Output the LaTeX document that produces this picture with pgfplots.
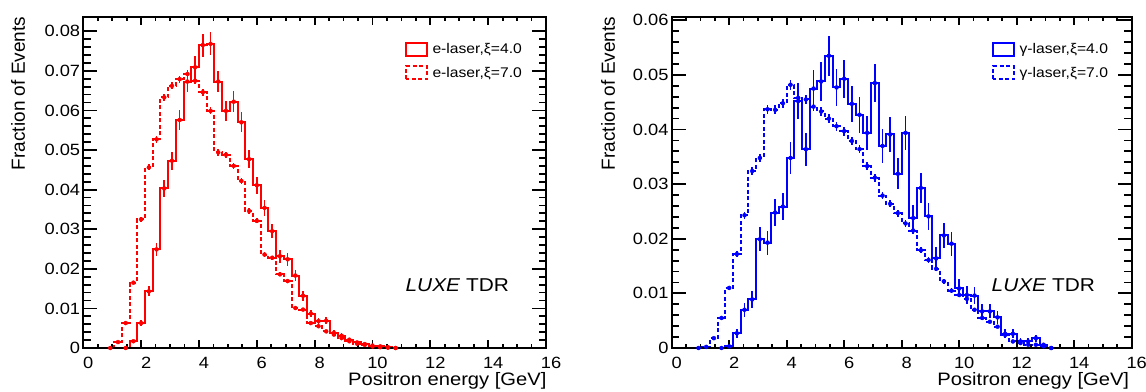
\documentclass[border=0pt]{standalone}
\usepackage{pgfplots}
\pgfplotsset{compat=1.18}
\usepackage{pgfplotstable}
\usepackage{fontspec}
\setmainfont[FakeStretch=1.12]{Liberation Sans}
\newfontfamily\ylabfont{Liberation Sans}
\definecolor{rootred}{RGB}{255,0,0}
\definecolor{rootblue}{RGB}{0,0,255}

% e-laser, xi=4.0 : bin left edge, bin centre, fraction, error
\pgfplotstableread{
e c y err
1.3333 1.4667 0 0
1.6 1.7333 0.0017 0.00044
1.8667 2.0 0.0063 0.00084
2.1333 2.2667 0.0143 0.00126
2.4 2.5333 0.0249 0.00166
2.6667 2.8 0.0403 0.00212
2.9333 3.0667 0.0473 0.00229
3.2 3.3333 0.0576 0.00253
3.4667 3.6 0.0673 0.00273
3.7333 3.8667 0.0709 0.00281
4.0 4.1333 0.0765 0.00292
4.2667 4.4 0.0768 0.00292
4.5333 4.6667 0.0673 0.00273
4.8 4.9333 0.0599 0.00258
5.0667 5.2 0.0622 0.00263
5.3333 5.4667 0.0570 0.00252
5.6 5.7333 0.0477 0.00230
5.8667 6.0 0.0411 0.00214
6.1333 6.2667 0.0354 0.00198
6.4 6.5333 0.0295 0.00181
6.6667 6.8 0.0232 0.00161
6.9333 7.0667 0.0224 0.00158
7.2 7.3333 0.0183 0.00143
7.4667 7.6 0.0132 0.00121
7.7333 7.8667 0.0087 0.00098
8.0 8.1333 0.0068 0.00087
8.2667 8.4 0.0069 0.00088
8.5333 8.6667 0.0038 0.00065
8.8 8.9333 0.0031 0.00059
9.0667 9.2 0.0021 0.00048
9.3333 9.4667 0.0014 0.00039
9.6 9.7333 0.0010 0.00033
9.8667 10.0 0.0006 0.00026
10.1333 10.2667 0.0004 0.00021
10.4 10.5333 0.0002 0.00015
10.6667 10.8 0 0
}\eA

% e-laser, xi=7.0
\pgfplotstableread{
e c y err
0.8 0.9333 0 0
1.0667 1.2 0.0015 0.00014
1.3333 1.4667 0.0063 0.00028
1.6 1.7333 0.0165 0.00045
1.8667 2.0 0.0325 0.00064
2.1333 2.2667 0.0456 0.00076
2.4 2.5333 0.0527 0.00081
2.6667 2.8 0.0633 0.00089
2.9333 3.0667 0.0662 0.00091
3.2 3.3333 0.0679 0.00092
3.4667 3.6 0.0692 0.00093
3.7333 3.8667 0.0675 0.00092
4.0 4.1333 0.0646 0.00090
4.2667 4.4 0.0599 0.00087
4.5333 4.6667 0.0494 0.00079
4.8 4.9333 0.0488 0.00078
5.0667 5.2 0.0460 0.00076
5.3333 5.4667 0.0422 0.00073
5.6 5.7333 0.0346 0.00066
5.8667 6.0 0.0321 0.00063
6.1333 6.2667 0.0236 0.00054
6.4 6.5333 0.0228 0.00053
6.6667 6.8 0.0186 0.00048
6.9333 7.0667 0.0169 0.00046
7.2 7.3333 0.0101 0.00036
7.4667 7.6 0.0097 0.00035
7.7333 7.8667 0.0063 0.00028
8.0 8.1333 0.0055 0.00026
8.2667 8.4 0.0042 0.00023
8.5333 8.6667 0.0034 0.00021
8.8 8.9333 0.0025 0.00018
9.0667 9.2 0.0017 0.00015
9.3333 9.4667 0.0011 0.00012
9.6 9.7333 0.0008 0.00010
9.8667 10.0 0.0004 0.00007
10.1333 10.2667 0.0002 0.00005
10.4 10.5333 0.0001 0.00004
10.6667 10.8 0 0
}\eB

% gamma-laser, xi=4.0
\pgfplotstableread{
e c y err
1.6 1.7333 0 0
1.8667 2.0 0.0003 0.00027
2.1333 2.2667 0.0027 0.00082
2.4 2.5333 0.0070 0.00132
2.6667 2.8 0.0089 0.00149
2.9333 3.0667 0.0199 0.00223
3.2 3.3333 0.0193 0.00220
3.4667 3.6 0.0248 0.00249
3.7333 3.8667 0.0259 0.00254
4.0 4.1333 0.0348 0.00295
4.2667 4.4 0.0452 0.00336
4.5333 4.6667 0.0364 0.00302
4.8 4.9333 0.0475 0.00345
5.0667 5.2 0.0488 0.00349
5.3333 5.4667 0.0535 0.00366
5.6 5.7333 0.0477 0.00345
5.8667 6.0 0.0493 0.00351
6.1333 6.2667 0.0447 0.00334
6.4 6.5333 0.0427 0.00327
6.6667 6.8 0.0394 0.00314
6.9333 7.0667 0.0485 0.00348
7.2 7.3333 0.0370 0.00304
7.4667 7.6 0.0391 0.00313
7.7333 7.8667 0.0319 0.00282
8.0 8.1333 0.0394 0.00314
8.2667 8.4 0.0238 0.00244
8.5333 8.6667 0.0293 0.00271
8.8 8.9333 0.0241 0.00245
9.0667 9.2 0.0164 0.00203
9.3333 9.4667 0.0206 0.00227
9.6 9.7333 0.0191 0.00218
9.8667 10.0 0.0109 0.00165
10.1333 10.2667 0.0097 0.00156
10.4 10.5333 0.0096 0.00155
10.6667 10.8 0.0067 0.00129
10.9333 11.0667 0.0067 0.00129
11.2 11.3333 0.0056 0.00118
11.4667 11.6 0.0026 0.00081
11.7333 11.8667 0.0026 0.00081
12.0 12.1333 0.0012 0.00055
12.2667 12.4 0.0012 0.00055
12.5333 12.6667 0.0018 0.00067
12.8 12.9333 0.0006 0.00039
13.0667 13.2 0 0
}\gA

% gamma-laser, xi=7.0
\pgfplotstableread{
e c y err
0.8 0.9333 0 0
1.0667 1.2 0.0002 0.00006
1.3333 1.4667 0.0018 0.00017
1.6 1.7333 0.0055 0.00030
1.8667 2.0 0.0110 0.00043
2.1333 2.2667 0.0172 0.00054
2.4 2.5333 0.0243 0.00064
2.6667 2.8 0.0324 0.00073
2.9333 3.0667 0.0348 0.00076
3.2 3.3333 0.0437 0.00085
3.4667 3.6 0.0436 0.00085
3.7333 3.8667 0.0448 0.00086
4.0 4.1333 0.0482 0.00090
4.2667 4.4 0.0458 0.00087
4.5333 4.6667 0.0455 0.00087
4.8 4.9333 0.0442 0.00086
5.0667 5.2 0.0433 0.00085
5.3333 5.4667 0.0420 0.00084
5.6 5.7333 0.0406 0.00082
5.8667 6.0 0.0397 0.00081
6.1333 6.2667 0.0379 0.00079
6.4 6.5333 0.0364 0.00078
6.6667 6.8 0.0333 0.00074
6.9333 7.0667 0.0312 0.00072
7.2 7.3333 0.0279 0.00068
7.4667 7.6 0.0264 0.00066
7.7333 7.8667 0.0247 0.00064
8.0 8.1333 0.0228 0.00062
8.2667 8.4 0.0215 0.00060
8.5333 8.6667 0.0179 0.00055
8.8 8.9333 0.0161 0.00052
9.0667 9.2 0.0145 0.00049
9.3333 9.4667 0.0122 0.00045
9.6 9.7333 0.0105 0.00042
9.8667 10.0 0.0097 0.00040
10.1333 10.2667 0.0090 0.00039
10.4 10.5333 0.0070 0.00034
10.6667 10.8 0.0055 0.00030
10.9333 11.0667 0.0048 0.00028
11.2 11.3333 0.0039 0.00025
11.4667 11.6 0.0024 0.00020
11.7333 11.8667 0.0012 0.00014
12.0 12.1333 0.0009 0.00012
12.2667 12.4 0.0006 0.00010
12.5333 12.6667 0.0006 0.00010
12.8 12.9333 0.0003 0.00007
13.0667 13.2 0 0
}\gB

\pgfplotsset{
  rootaxis/.style={
    scale only axis, height=331pt,
    xmin=0, xmax=16, ymin=0,
    axis on top,
    axis line style={line width=2pt, black},
    tick align=inside, tick pos=both,
    xtick={0,2,...,16}, minor x tick num=3,
    minor y tick num=4,
    every tick/.style={black, line width=1.8pt},
    every major x tick/.append style={/pgfplots/major tick length=8pt},
    every minor x tick/.append style={/pgfplots/minor tick length=4pt},
    every major y tick/.append style={/pgfplots/major tick length=14pt},
    every minor y tick/.append style={/pgfplots/minor tick length=7.5pt},
    /pgf/number format/assume math mode=true,
    scaled y ticks=false,
    ticklabel style={font=\fontsize{16.3}{18}\selectfont},
    xticklabel style={inner sep=0pt, anchor=north, yshift=-9pt, xshift=5pt},
    yticklabel style={inner sep=0pt, anchor=east, xshift=-3pt,
      /pgf/number format/fixed, /pgf/number format/precision=2},
    ylabel={Fraction of Events},
    legend cell align=left,
    legend image code/.code={\draw[##1] (0pt,-6.5pt) rectangle (21pt,6.5pt);},
    legend style={draw=none, fill=none, inner sep=0pt, outer sep=0pt,
      row sep=8.5pt, font=\fontsize{14}{16}\selectfont,
      nodes={inner sep=0pt, outer sep=0pt},
      /tikz/every odd column/.append style={column sep=4.5pt}},
  },
  hist/.style={line width=2pt, const plot mark left, mark=none},
  histerr/.style={only marks, mark=none, forget plot,
    error bars/.cd, y dir=both, y explicit, error mark=none,
    error bar style={#1, line width=1.6pt, solid}},
  dashhist/.style={dash pattern=on 4pt off 2.5pt},
}

\begin{document}
\begin{tikzpicture}
\useasboundingbox (0,0) rectangle (1146pt,391pt);
\begin{axis}[rootaxis, at={(83.3pt,43pt)}, anchor=south west,
  width=462.7pt, ymax=0.0836,
  ytick={0,0.01,...,0.08},
  every axis x label/.style={at={(rel axis cs:1.0086,-0.1125)}, anchor=base east, font=\fontsize{18}{20}\selectfont},
  every axis y label/.style={at={(rel axis cs:-0.126,1.011)}, rotate=90, anchor=base east, font=\ylabfont\fontsize{19}{21}\selectfont},
  xlabel={Positron energy [GeV]},
  legend style={at={(rel axis cs:0.6953,0.9245)}, anchor=north west}]
\addplot[rootred, hist] table[x=e, y=y] {\eA};
\addlegendentry{e-laser,ξ=4.0}
\addplot[rootred, hist, dashhist] table[x=e, y=y] {\eB};
\addlegendentry{e-laser,ξ=7.0}
\addplot[rootred, histerr=rootred] table[x=c, y=y, y error=err] {\eA};
\addplot[rootred, histerr=rootred] table[x=c, y=y, y error=err] {\eB};
\node[anchor=base west, font=\fontsize{18.6}{20}\selectfont] at (rel axis cs:0.689,0.170) {\textit{LUXE} TDR};
\end{axis}

\begin{axis}[rootaxis, at={(671.7pt,43pt)}, anchor=south west,
  width=460pt, ymax=0.0606,
  ytick={0,0.01,...,0.06},
  every axis x label/.style={at={(rel axis cs:1.002,-0.1125)}, anchor=base east, font=\fontsize{18}{20}\selectfont},
  every axis y label/.style={at={(rel axis cs:-0.1233,1.011)}, rotate=90, anchor=base east, font=\ylabfont\fontsize{19}{21}\selectfont},
  xlabel={Positron enegy [GeV]},
  legend style={at={(rel axis cs:0.6963,0.9245)}, anchor=north west}]
\addplot[rootblue, hist] table[x=e, y=y] {\gA};
\addlegendentry{γ-laser,ξ=4.0}
\addplot[rootblue, hist, dashhist] table[x=e, y=y] {\gB};
\addlegendentry{γ-laser,ξ=7.0}
\addplot[rootblue, histerr=rootblue] table[x=c, y=y, y error=err] {\gA};
\addplot[rootblue, histerr=rootblue] table[x=c, y=y, y error=err] {\gB};
\node[anchor=base west, font=\fontsize{18.6}{20}\selectfont] at (rel axis cs:0.688,0.170) {\textit{LUXE} TDR};
\end{axis}
\end{tikzpicture}
\end{document}
